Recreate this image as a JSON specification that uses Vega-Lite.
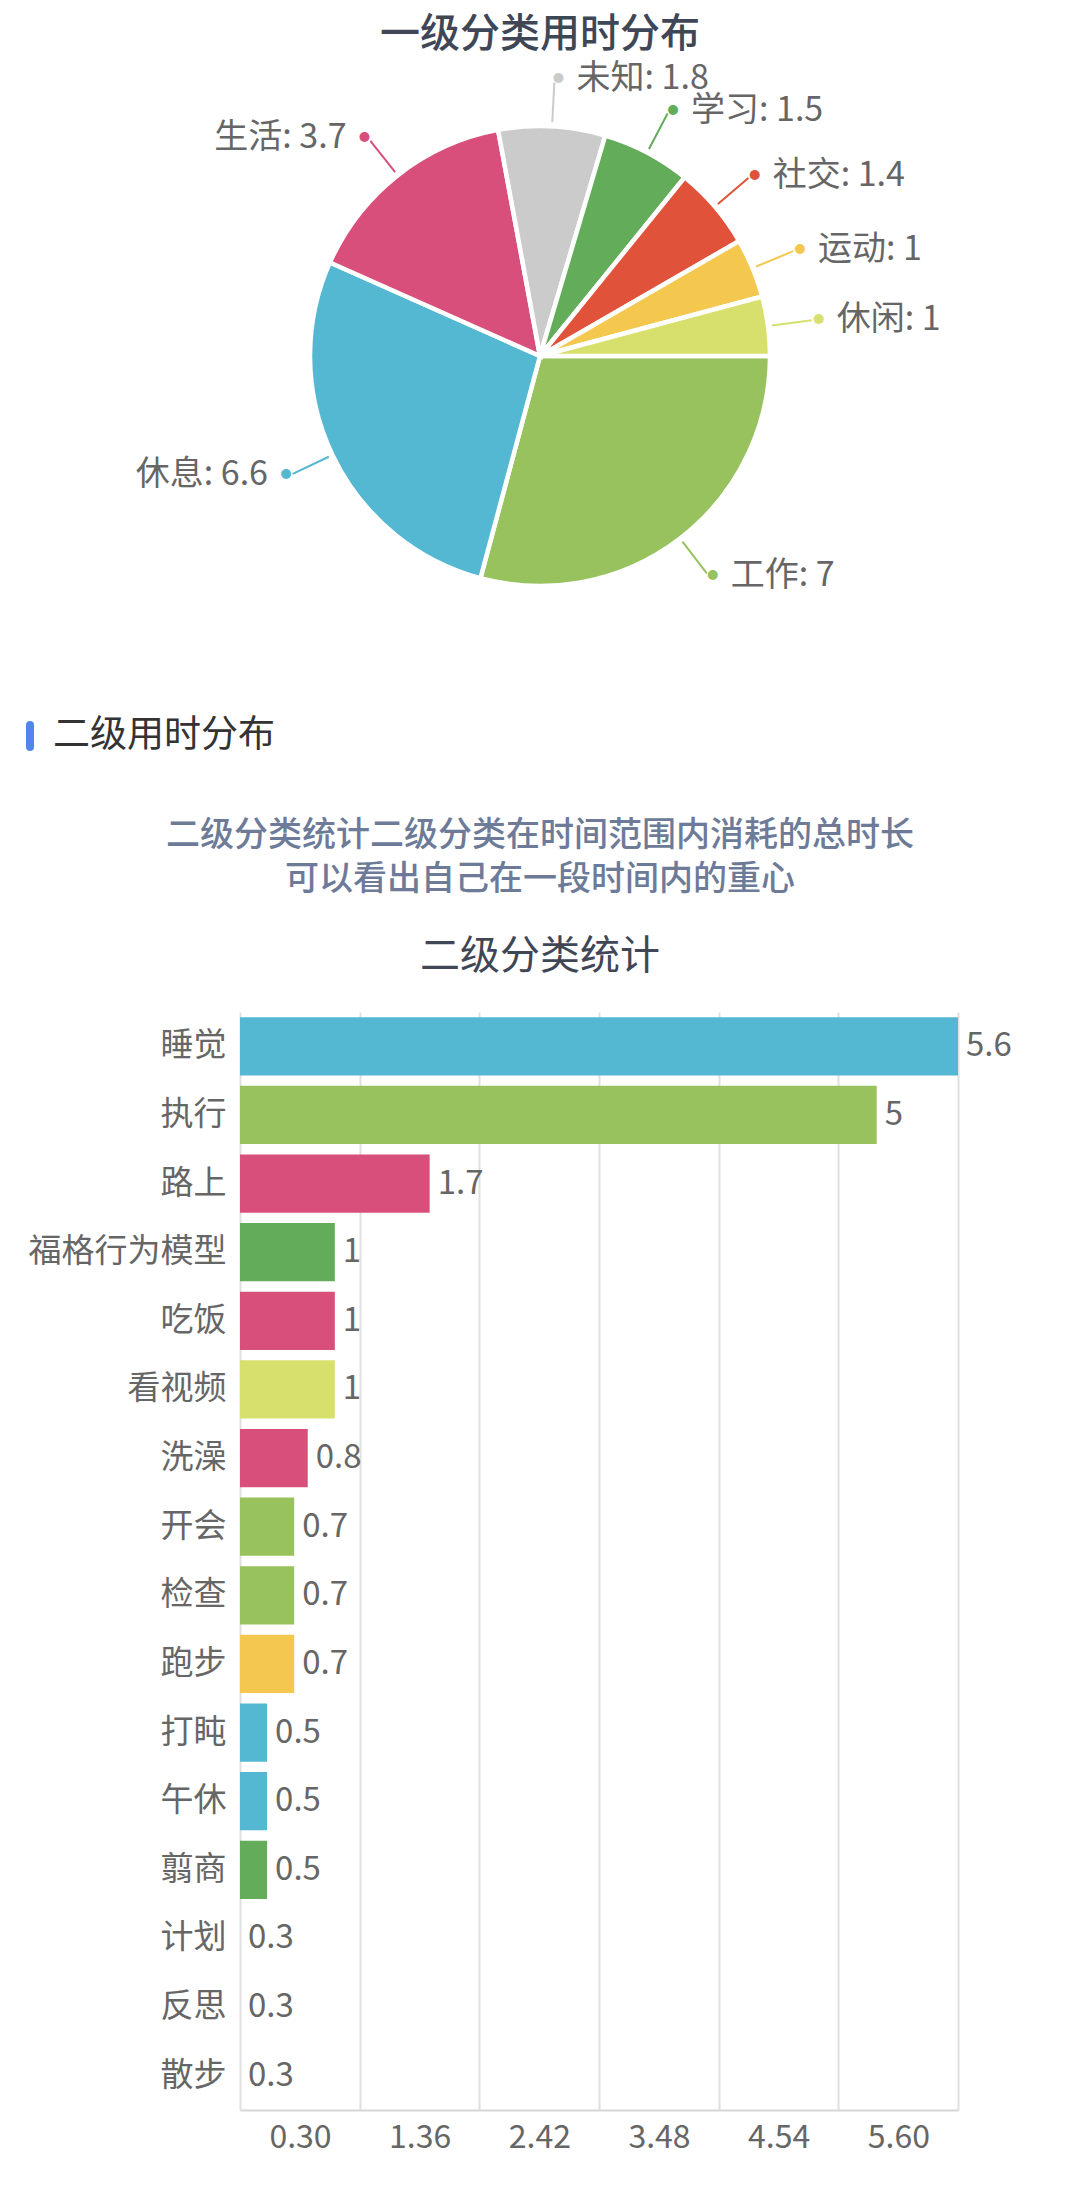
{
  "$schema": "https://vega.github.io/schema/vega-lite/v6.json",
  "padding": {"top": 15, "left": 0, "right": 0, "bottom": 20},
  "background": "white",
  "config": {
    "view": {"stroke": null},
    "font": "Noto Sans CJK SC"
  },
  "datasets": {
    "top": [
      {"name": "工作", "v": 7, "ord": 1, "label": "工作: 7"},
      {"name": "休息", "v": 6.6, "ord": 2, "label": "休息: 6.6"},
      {"name": "生活", "v": 3.7, "ord": 3, "label": "生活: 3.7"},
      {"name": "未知", "v": 1.8, "ord": 4, "label": "未知: 1.8"},
      {"name": "学习", "v": 1.5, "ord": 5, "label": "学习: 1.5"},
      {"name": "社交", "v": 1.4, "ord": 6, "label": "社交: 1.4"},
      {"name": "运动", "v": 1, "ord": 7, "label": "运动: 1"},
      {"name": "休闲", "v": 1, "ord": 8, "label": "休闲: 1"}
    ],
    "sub": [
      {"name": "睡觉", "v": 5.6, "cat": "休息"},
      {"name": "执行", "v": 5, "cat": "工作"},
      {"name": "路上", "v": 1.7, "cat": "生活"},
      {"name": "福格行为模型", "v": 1, "cat": "学习"},
      {"name": "吃饭", "v": 1, "cat": "生活"},
      {"name": "看视频", "v": 1, "cat": "休闲"},
      {"name": "洗澡", "v": 0.8, "cat": "生活"},
      {"name": "开会", "v": 0.7, "cat": "工作"},
      {"name": "检查", "v": 0.7, "cat": "工作"},
      {"name": "跑步", "v": 0.7, "cat": "运动"},
      {"name": "打盹", "v": 0.5, "cat": "休息"},
      {"name": "午休", "v": 0.5, "cat": "休息"},
      {"name": "翦商", "v": 0.5, "cat": "学习"},
      {"name": "计划", "v": 0.3, "cat": "工作"},
      {"name": "反思", "v": 0.3, "cat": "学习"},
      {"name": "散步", "v": 0.3, "cat": "运动"}
    ]
  },
  "spacing": 72,
  "vconcat": [
    {
      "width": 600,
      "height": 578,
      "title": {"text": "一级分类用时分布", "fontSize": 40, "fontWeight": 500, "color": "#3f4756", "offset": 7, "anchor": "middle"},
      "data": {"name": "top"},
      "encoding": {
        "theta": {"field": "v", "type": "quantitative", "stack": true, "scale": {"range": [1.5708, 7.854]}},
        "order": {"field": "ord", "type": "quantitative"},
        "color": {
          "field": "name", "type": "nominal", "legend": null,
          "scale": {
            "domain": ["工作", "休息", "生活", "未知", "学习", "社交", "运动", "休闲"],
            "range": ["#97c25e", "#55b8d2", "#d94f7b", "#cbcbcb", "#62ac5a", "#e0533a", "#f4c84f", "#d7e06c"]
          }
        }
      },
      "layer": [
        {"mark": {"type": "arc", "outerRadius": 230, "stroke": "white", "strokeWidth": 4.5}},
        {"mark": {"type": "arc", "innerRadius": 234, "outerRadius": 274, "padAngle": 2, "filled": false, "strokeWidth": 2}},
        {
          "mark": {
            "type": "text", "radius": 277, "text": "●", "fontSize": 11, "baseline": "middle", "align": "center",
            "dx": {"expr": "datum.name == '休息' || datum.name == '生活' ? -4 : 4"}
          }
        },
        {
          "mark": {
            "type": "text", "radius": 277, "fontSize": 34, "baseline": "middle",
            "align": {"expr": "datum.name == '休息' || datum.name == '生活' ? 'right' : 'left'"},
            "dx": {"expr": "datum.name == '休息' || datum.name == '生活' ? -22 : 22"}
          },
          "encoding": {
            "text": {"field": "label", "type": "nominal"},
            "color": {"value": "#666666"},
            "detail": {"field": "name", "type": "nominal"}
          }
        }
      ]
    },
    {
      "spacing": 55,
      "vconcat": [
        {
          "width": 6,
          "height": 28,
          "data": {"values": [{"t": "二级用时分布"}]},
          "layer": [
            {
              "mark": {"type": "rule", "strokeWidth": 8, "strokeCap": "round", "color": "#4f86ec"},
              "encoding": {"x": {"value": -210}, "y": {"value": -11}, "y2": {"value": 11}}
            },
            {"mark": {"type": "text", "x": -207, "y": {"expr": "height/2"}, "dx": 20, "align": "left", "baseline": "middle", "fontSize": 37, "color": "#333333"}, "encoding": {"text": {"field": "t", "type": "nominal"}}}
          ]
        },
        {
          "width": 718,
          "height": 1098,
          "title": {
            "text": ["二级分类统计二级分类在时间范围内消耗的总时长", "可以看出自己在一段时间内的重心"],
            "fontSize": 34, "fontWeight": 500, "color": "#6d7b99", "lineHeight": 44,
            "subtitle": "二级分类统计", "subtitleFontSize": 40, "subtitleColor": "#3f4756", "subtitlePadding": 40,
            "offset": 35, "anchor": "middle", "dx": -59
          },
          "data": {"name": "sub"},
          "encoding": {
            "y": {
              "field": "name", "type": "nominal", "sort": null,
              "scale": {"paddingInner": 0.15, "paddingOuter": 0.075},
              "axis": {"title": null, "labelFontSize": 33, "labelColor": "#666666", "labelPadding": 14, "labelLimit": 0, "ticks": false, "domain": false, "minExtent": 240, "maxExtent": 240}
            },
            "x": {
              "field": "v", "type": "quantitative",
              "scale": {"domain": [0.3, 5.6], "zero": false, "nice": false},
              "axis": {
                "title": null,
                "values": [0.3, 1.18333, 2.06667, 2.95, 3.83333, 4.71667, 5.6],
                "grid": true, "gridColor": "#e0e0e0", "gridWidth": 2,
                "ticks": false, "domainColor": "#d6d6d6", "domainWidth": 2,
                "labelFontSize": 32, "labelColor": "#666666", "labelPadding": 12, "labelOffset": 60,
                "labelFlush": false, "labelOverlap": false,
                "labelExpr": "datum.value < 0.5 ? '0.30' : datum.value < 1.5 ? '1.36' : datum.value < 2.5 ? '2.42' : datum.value < 3.4 ? '3.48' : datum.value < 4.3 ? '4.54' : datum.value < 5 ? '5.60' : ''"
              }
            }
          },
          "layer": [
            {
              "mark": {"type": "bar"},
              "encoding": {
                "x2": {"datum": 0.3},
                "color": {"field": "cat", "type": "nominal", "legend": null}
              }
            },
            {
              "mark": {"type": "text", "align": "left", "dx": 8, "fontSize": 33, "color": "#666666", "baseline": "middle"},
              "encoding": {"text": {"field": "v", "type": "quantitative"}}
            }
          ]
        }
      ]
    }
  ]
}
